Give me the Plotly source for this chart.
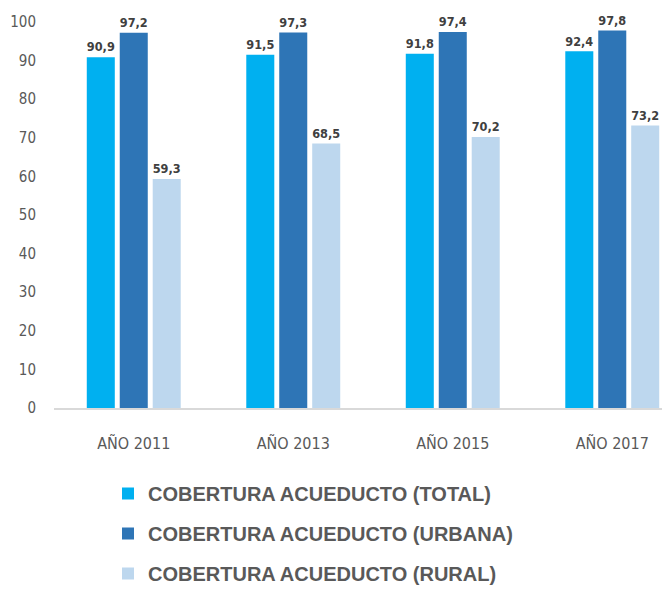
import plotly.graph_objects as go

categories = ["AÑO 2011", "AÑO 2013", "AÑO 2015", "AÑO 2017"]
total = [90.9, 91.5, 91.8, 92.4]
urbana = [97.2, 97.3, 97.4, 97.8]
rural = [59.3, 68.5, 70.2, 73.2]
series_names = [
    "COBERTURA ACUEDUCTO (TOTAL)",
    "COBERTURA ACUEDUCTO (URBANA)",
    "COBERTURA ACUEDUCTO (RURAL)",
]
series_values = [total, urbana, rural]
colors = ["#00B0F0", "#2E75B6", "#BDD7EE"]
y_ticks = [0, 10, 20, 30, 40, 50, 60, 70, 80, 90, 100]

narrow = "DejaVu Sans Condensed, Liberation Sans Narrow, Arial Narrow, sans-serif"

fig = go.Figure()
for i, (name, vals, col) in enumerate(zip(series_names, series_values, colors)):
    fig.add_trace(go.Bar(
        x=categories, y=vals, name=name,
        marker=dict(color=col, line=dict(width=0)),
        text=vals, texttemplate="%{y:.1f}", textposition="outside",
        textfont=dict(family=narrow, size=19, color="#404040", weight="bold"),
        cliponaxis=False,
        legendgroup=f"g{i}",
    ))

fig.update_layout(
    width=670, height=590,
    margin=dict(l=46, r=8, t=14, b=190, autoexpand=False),
    paper_bgcolor="white", plot_bgcolor="white",
    barmode="group", bargap=0.38, bargroupgap=0.15,
    separators=",.",
    showlegend=True,
    legend=dict(
        orientation="v", xref="container", yref="container",
        x=100 / 670, xanchor="left", y=1 - 466 / 590, yanchor="top",
        font=dict(family="Liberation Sans, Arial, sans-serif", size=20,
                  color="#595959", weight="bold"),
        tracegroupgap=11, bgcolor="rgba(0,0,0,0)",
    ),
    xaxis=dict(
        type="category", range=[-0.5, 3.362], automargin=False,
        showline=True, linecolor="#D9D9D9", linewidth=1.5,
        showgrid=False, ticks="", ticklabelstandoff=20,
        tickfont=dict(family=narrow, size=16, color="#595959"),
    ),
    yaxis=dict(
        range=[0, 100], tickvals=y_ticks, showgrid=False, zeroline=False,
        automargin=False,
        showline=False, ticks="", ticklabelstandoff=17,
        tickfont=dict(family=narrow, size=15, color="#595959"),
    ),
)

fig.write_html("out.html")
